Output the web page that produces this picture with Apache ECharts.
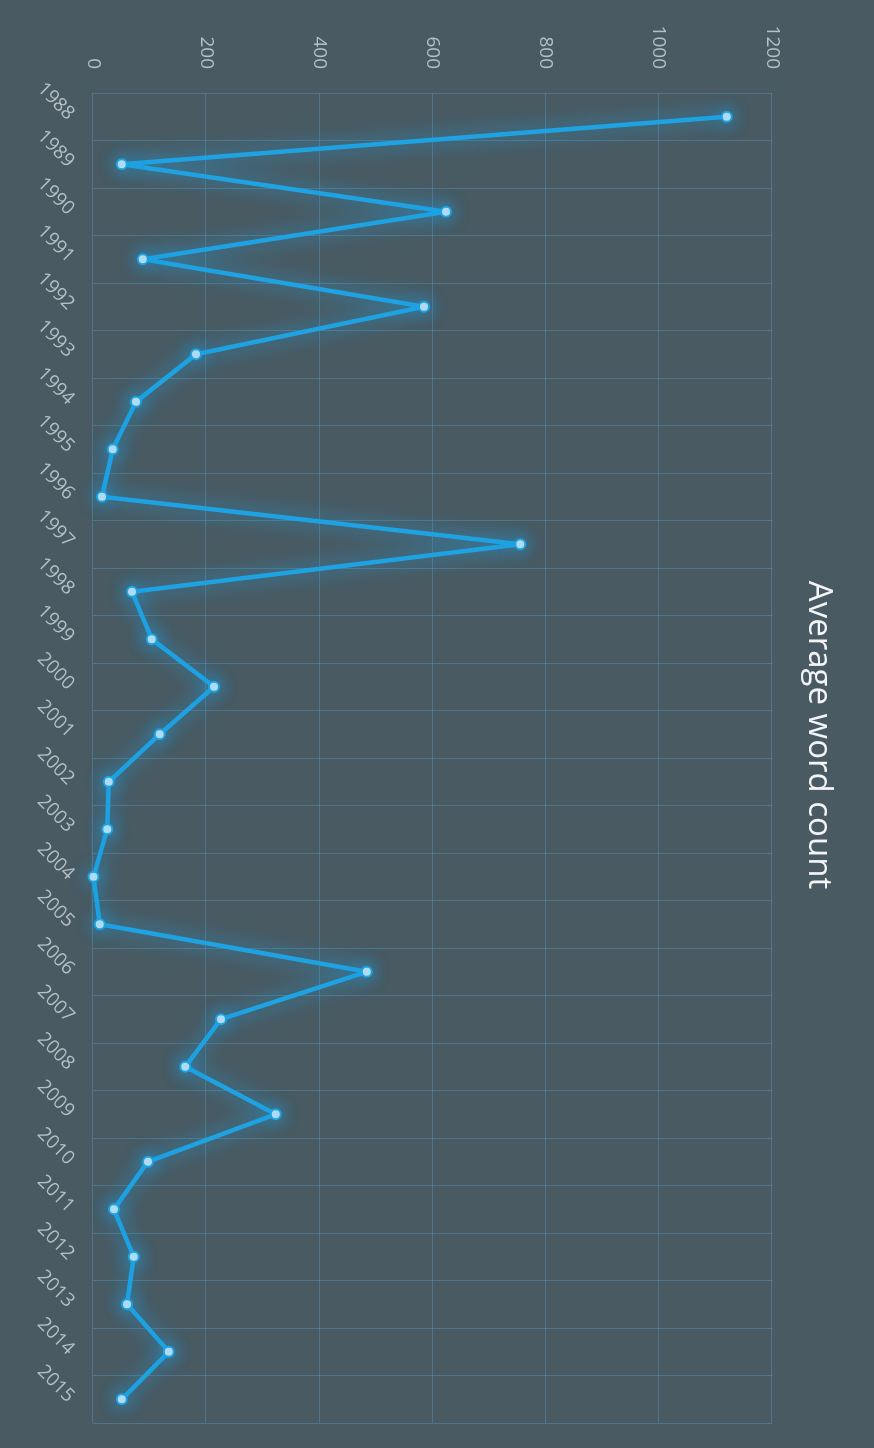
<!DOCTYPE html>
<html lang="en">
<head>
    <meta charset="UTF-8">
    <title>Average word count</title>
    <script src="https://cdn.jsdelivr.net/npm/echarts@6/dist/echarts.min.js"></script>
    <style type="text/css">
        html, body{margin:0;padding:0;width:874px;height:1448px;overflow:hidden;background:#495a62;}
        /* the page is printed sideways, so the chart is drawn landscape and turned */
        #myChart{position:absolute;left:0;top:0;width:1448px;height:874px;
            transform-origin:0 0;transform:translate(874px,0) rotate(90deg);}
    </style>
</head>
<body>
<div id="myChart"></div>
<script type="text/javascript">
    var years = ['1988','1989','1990','1991','1992','1993','1994','1995','1996','1997',
        '1998','1999','2000','2001','2002','2003','2004','2005','2006','2007',
        '2008','2009','2010','2011','2012','2013','2014','2015'];
    var wordCount = [1120, 51, 624, 88, 585, 182, 76, 35, 16, 755,
        69, 104, 214, 118, 28, 25, 1, 12, 484, 226,
        163, 323, 97, 37, 72, 60, 134, 51];
    var valueTicks = [0, 200, 400, 600, 800, 1000, 1200];

    var myChart = echarts.init(document.getElementById('myChart'));

    var gridColor = 'rgba(86,150,190,0.45)';
    var labelColor = '#b4c0c5';

    option = {
        backgroundColor: '#495a62',
        animation: false,
        title: {
            text: 'Average word count',
            left: 730,
            textAlign: 'center',
            top: 34,
            textStyle: {color: '#f2f4f5', fontSize: 33, fontWeight: 'normal', fontFamily: 'Open Sans'}
        },
        grid: {left: 93, right: 25, top: 102, bottom: 93},
        xAxis: {
            type: 'category',
            data: years,
            boundaryGap: true,
            axisLine: {show: false},
            axisTick: {show: false},
            axisLabel: {rotate: 45, margin: 22, color: labelColor, fontSize: 19, fontFamily: 'Open Sans', interval: 0},
            splitLine: {show: true, interval: 0, lineStyle: {color: gridColor, width: 1}}
        },
        yAxis: {
            type: 'value',
            min: valueTicks[0],
            max: valueTicks[valueTicks.length - 1],
            interval: 200,
            axisLine: {show: false},
            axisTick: {show: false},
            axisLabel: {margin: 24, color: labelColor, fontSize: 19, fontFamily: 'Open Sans',
                formatter: function (v) { return String(v); }},
            splitLine: {lineStyle: {color: gridColor, width: 1}}
        },
        series: [{
            name: 'Average word count',
            type: 'line',
            data: wordCount,
            symbol: 'circle',
            symbolSize: 10,
            lineStyle: {
                color: '#1ea2e2',
                width: 4.5,
                shadowColor: 'rgba(30,165,235,0.95)',
                shadowBlur: 20
            },
            itemStyle: {
                color: '#bfe2f3',
                borderColor: '#1ea2e2',
                borderWidth: 2,
                shadowColor: 'rgba(30,165,235,0.95)',
                shadowBlur: 18
            }
        }]
    };

    myChart.setOption(option);
</script>
</body>
</html>
